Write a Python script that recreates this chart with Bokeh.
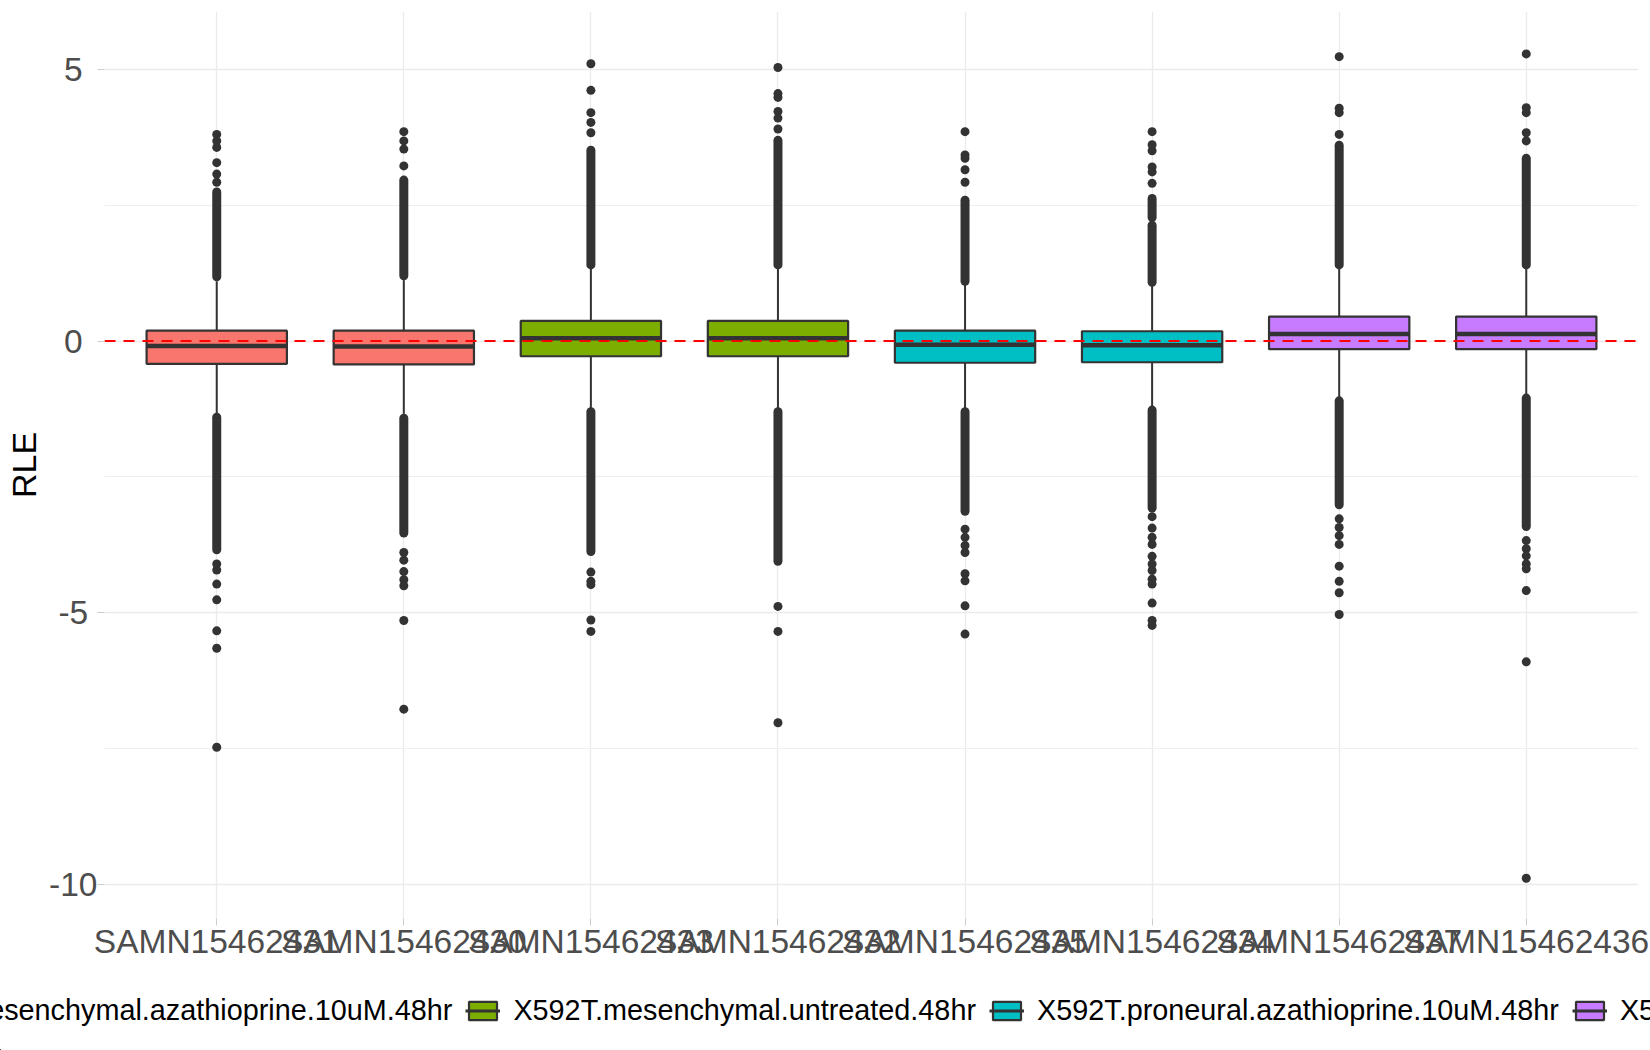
import numpy as np
from bokeh.plotting import figure
from bokeh.models import Range1d, FixedTicker, Span, Legend, LegendItem, ColumnDataSource
from bokeh.embed import file_html
from bokeh.resources import INLINE

# ---------------- data ----------------
samples = ["SAMN15462431", "SAMN15462430", "SAMN15462433", "SAMN15462432",
           "SAMN15462435", "SAMN15462434", "SAMN15462437", "SAMN15462436"]
groups = ["X592T.mesenchymal.azathioprine.10uM.48hr", "X592T.mesenchymal.azathioprine.10uM.48hr",
          "X592T.mesenchymal.untreated.48hr", "X592T.mesenchymal.untreated.48hr",
          "X592T.proneural.azathioprine.10uM.48hr", "X592T.proneural.azathioprine.10uM.48hr",
          "X592T.proneural.untreated.48hr", "X592T.proneural.untreated.48hr"]
group_names = ["X592T.mesenchymal.azathioprine.10uM.48hr", "X592T.mesenchymal.untreated.48hr",
               "X592T.proneural.azathioprine.10uM.48hr", "X592T.proneural.untreated.48hr"]
group_colors = ["#F8766D", "#7CAE00", "#00BFC4", "#C77CFF"]

q1 = [-0.42, -0.43, -0.28, -0.28, -0.40, -0.39, -0.15, -0.15]
median = [-0.09, -0.10, 0.05, 0.05, -0.07, -0.08, 0.13, 0.13]
q3 = [0.19, 0.19, 0.37, 0.37, 0.19, 0.18, 0.45, 0.45]
whisker_low = [-1.33, -1.34, -1.24, -1.24, -1.26, -1.23, -1.04, -1.02]
whisker_high = [1.10, 1.12, 1.33, 1.33, 1.05, 1.02, 1.34, 1.33]

# dense runs of outliers (continuous columns of points)
dense_up_from = [1.18, 1.20, 1.40, 1.40, 1.10, 1.08, 1.40, 1.40]
dense_up_to = [2.74, 2.96, 3.51, 3.69, 2.59, 2.13, 3.60, 3.36]
dense_low_from = [-1.40, -1.42, -1.30, -1.30, -1.30, -1.27, -1.10, -1.05]
dense_low_to = [-3.84, -3.53, -3.87, -4.05, -3.13, -3.07, -3.01, -3.41]
extra_run_sample = [6]
extra_run_from = [2.27]
extra_run_to = [2.62]

# individual outliers
outliers_high = [
    [2.92, 3.07, 3.28, 3.56, 3.68, 3.80],
    [3.22, 3.53, 3.68, 3.85],
    [3.83, 4.02, 4.20, 4.61, 5.10],
    [3.90, 4.10, 4.22, 4.48, 4.55, 5.03],
    [2.92, 3.15, 3.36, 3.42, 3.85],
    [2.90, 3.11, 3.20, 3.50, 3.61, 3.85],
    [3.80, 4.20, 4.28, 5.23],
    [3.68, 3.83, 4.20, 4.29, 5.28],
]
outliers_low = [
    [-4.10, -4.21, -4.47, -4.76, -5.33, -5.65, -7.47],
    [-3.89, -4.03, -4.24, -4.39, -4.50, -5.14, -6.77],
    [-4.25, -4.42, -4.48, -5.13, -5.34],
    [-4.88, -5.34, -7.02],
    [-3.46, -3.61, -3.76, -3.89, -4.28, -4.41, -4.87, -5.39],
    [-3.23, -3.44, -3.61, -3.74, -3.96, -4.10, -4.22, -4.38, -4.47, -4.82, -5.14, -5.23],
    [-3.27, -3.43, -3.58, -3.74, -4.14, -4.42, -4.63, -5.03],
    [-3.67, -3.82, -3.95, -4.10, -4.19, -4.59, -5.90, -9.88],
]

y_ticks = [-10, -5, 0, 5]
# trailing no-break / six-per-em spaces keep the labels visually centred like the reference
y_tick_labels = ["-10", "-5\u00a0", "0\u00a0\u2006", "5\u00a0\u2006"]
y_minor = [-7.5, -2.5, 2.5]

# ---------------- main figure ----------------
xs = np.arange(1, len(samples) + 1, dtype=float)
box_w = 0.75
col_of = {g: c for g, c in zip(group_names, group_colors)}
fills = [col_of[g] for g in groups]
dark = "#333333"
FONT = "Liberation Sans"

p = figure(frame_width=1534, frame_height=907,
           x_range=Range1d(0.4, 8.6), y_range=Range1d(-10.62, 6.06),
           output_backend="svg", toolbar_location=None,
           min_border_left=104, min_border_right=12, min_border_top=11, min_border_bottom=70,
           background_fill_color="white", border_fill_color="white")
p.outline_line_color = None

# grid
p.xgrid.ticker = FixedTicker(ticks=list(xs))
p.xgrid.grid_line_color = "#EBEBEB"
p.xgrid.grid_line_width = 1.3
yt = FixedTicker(ticks=y_ticks, minor_ticks=y_minor)
p.yaxis.ticker = yt
p.ygrid.ticker = yt
p.ygrid.grid_line_color = "#EBEBEB"
p.ygrid.grid_line_width = 1.4
p.ygrid.minor_grid_line_color = "#EFEFEF"
p.ygrid.minor_grid_line_width = 1.0

# axes
p.xaxis.ticker = FixedTicker(ticks=list(xs))
p.xaxis.major_label_overrides = {float(x): s for x, s in zip(xs, samples)}
p.yaxis.major_label_overrides = {float(t): s for t, s in zip(y_ticks, y_tick_labels)}
for ax in (p.xaxis[0], p.yaxis[0]):
    ax.axis_line_color = None
    ax.minor_tick_line_color = None
    ax.major_tick_line_color = "#CCCCCC"
    ax.major_tick_in = 0
    ax.major_tick_out = 7
    ax.major_label_text_color = "#4D4D4D"
    ax.major_label_text_font = FONT
    ax.major_label_text_font_size = "33.5px"
p.xaxis.major_label_standoff = -3
p.yaxis.major_label_standoff = 0
p.yaxis.axis_label = "RLE"
p.yaxis.axis_label_text_font = FONT
p.yaxis.axis_label_text_font_size = "34px"
p.yaxis.axis_label_text_font_style = "normal"
p.yaxis.axis_label_text_color = "black"
p.yaxis.axis_label_standoff = 3

# whiskers
p.segment(x0=xs, y0=q3, x1=xs, y1=whisker_high, line_color=dark, line_width=2)
p.segment(x0=xs, y0=q1, x1=xs, y1=whisker_low, line_color=dark, line_width=2)

# dense outlier runs
p.segment(x0=xs, y0=dense_up_from, x1=xs, y1=dense_up_to, line_color=dark, line_width=9, line_cap="round")
p.segment(x0=xs, y0=dense_low_from, x1=xs, y1=dense_low_to, line_color=dark, line_width=9, line_cap="round")
p.segment(x0=[xs[i - 1] for i in extra_run_sample], y0=extra_run_from,
          x1=[xs[i - 1] for i in extra_run_sample], y1=extra_run_to,
          line_color=dark, line_width=9, line_cap="round")

# individual outliers
ox, oy = [], []
for x, hi, lo in zip(xs, outliers_high, outliers_low):
    for v in hi + lo:
        ox.append(x)
        oy.append(v)
p.scatter(ox, oy, size=9, color=dark, line_width=0)

# boxes
box_src = ColumnDataSource(dict(x=xs, q1=q1, q3=q3, fill=fills,
                                x0=xs - box_w / 2, x1=xs + box_w / 2, med=median))
p.vbar(x="x", width=box_w, bottom="q1", top="q3", source=box_src,
       fill_color="fill", line_color=dark, line_width=2.2)
p.segment(x0="x0", y0="med", x1="x1", y1="med", source=box_src,
          line_color=dark, line_width=4.5)

# reference line
p.add_layout(Span(location=0, dimension="width", line_color="red",
                  line_dash="11 8", line_width=2.2))

# ---------------- legend strip: separate root spanning the full page width ----------------
pleg = figure(width=1650, height=62, x_range=Range1d(100, 101), y_range=Range1d(100, 101),
              x_axis_type=None, y_axis_type=None, output_backend="svg", toolbar_location=None,
              min_border_left=0, min_border_right=0, min_border_top=0, min_border_bottom=0,
              background_fill_color="white", border_fill_color="white")
pleg.outline_line_color = None
pleg.grid.visible = False
leg_box = pleg.vbar(x="x", width=box_w, bottom="q1", top="q3", source=box_src,
                    fill_color="fill", line_color=dark, line_width=2.2)
leg_med = pleg.segment(x0="x0", y0="med", x1="x1", y1="med", source=box_src,
                       line_color=dark, line_width=3)

items = [LegendItem(label=g, renderers=[leg_box, leg_med], index=2 * k) for k, g in enumerate(group_names)]
legend = Legend(items=items, orientation="horizontal", location=(-173.5, 23.5),
                glyph_width=35, glyph_height=23, label_standoff=13, spacing=13,
                padding=0, margin=0, border_line_color=None, background_fill_alpha=0,
                label_text_font=FONT, label_text_font_size="28.8px",
                label_text_color="black")
pleg.add_layout(legend, "center")

open("out.html", "w").write(file_html([p, pleg], INLINE))
